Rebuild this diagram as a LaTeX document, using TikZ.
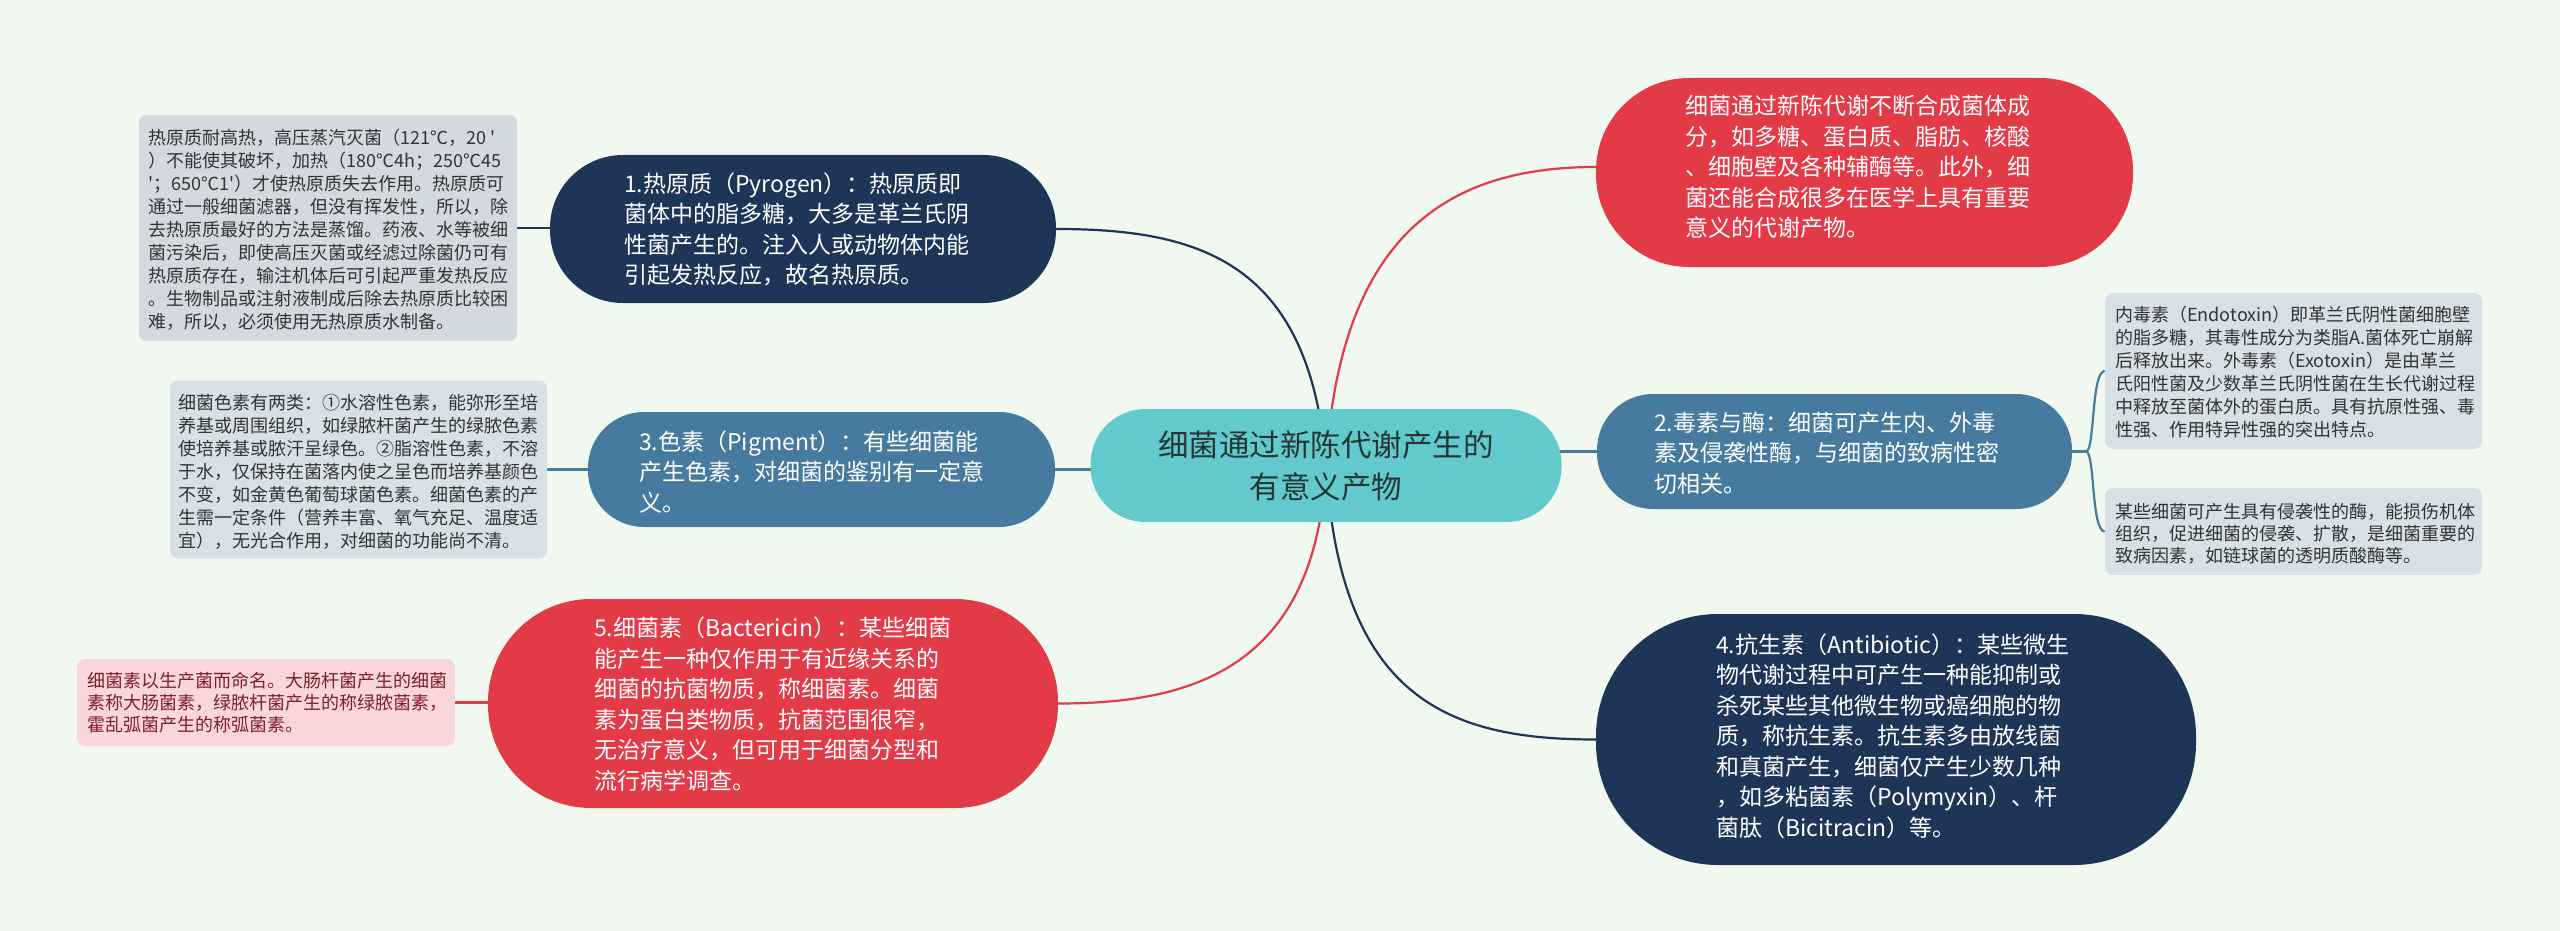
\documentclass[tikz,border=0pt]{standalone}
\usepackage{fontspec}
\newfontfamily\cjk{Noto Sans CJK SC}
\usetikzlibrary{backgrounds}
\definecolor{bgc}{HTML}{F1F8EF}
\definecolor{navyc}{HTML}{1E3558}
\definecolor{steelc}{HTML}{467B9F}
\definecolor{redc}{HTML}{E33A48}
\definecolor{tealc}{HTML}{62C9CC}
\definecolor{ctext}{HTML}{263636}
\definecolor{grayn}{HTML}{D3D9E0}
\definecolor{bluen}{HTML}{D6E0E7}
\definecolor{pinkn}{HTML}{F9D6DA}
\definecolor{pinkt}{HTML}{7E1F2A}
\definecolor{notet}{HTML}{333333}
\begin{document}
\begin{tikzpicture}[x=1pt,y=-1pt,
  pill/.style={inner sep=0pt},
  notebox/.style={inner sep=0pt, rounded corners=8pt},
  txt/.style={anchor=west, inner sep=0pt, align=left},
  bigf/.style={font=\cjk\fontsize{23}{30.5}\selectfont},
  notef/.style={font=\cjk\fontsize{18}{23}\selectfont},
  conn/.style={line width=2.2pt}]
\useasboundingbox (0,0) rectangle (2560,931);

% center
\node[pill, fill=tealc, minimum width=471, minimum height=113, rounded corners=55] (c) at (1326,465.5) {};
\node[inner sep=0pt, align=center, text=ctext, font=\cjk\fontsize{30.5}{42}\selectfont] (ct) at (1326,466) {细菌通过新陈代谢产生的\\有意义产物};

% node 1
\node[pill, fill=navyc, minimum width=506, minimum height=148, rounded corners=73] (n1) at (803,229) {};
\node[txt, bigf, text=white] (n1t) at (624,229.5) {1.热原质（Pyrogen）：热原质即\\菌体中的脂多糖，大多是革兰氏阴\\性菌产生的。注入人或动物体内能\\引起发热反应，故名热原质。};

% node 3
\node[pill, fill=steelc, minimum width=467, minimum height=115, rounded corners=56] (n3) at (821.5,469.5) {};
\node[txt, bigf, text=white] (n3t) at (639,472) {3.色素（Pigment）：有些细菌能\\产生色素，对细菌的鉴别有一定意\\义。};

% node 5
\node[pill, fill=redc, minimum width=570, minimum height=209, rounded corners=103] (n5) at (773,703.5) {};
\node[txt, bigf, text=white] (n5t) at (594,704) {5.细菌素（Bactericin）：某些细菌\\能产生一种仅作用于有近缘关系的\\细菌的抗菌物质，称细菌素。细菌\\素为蛋白类物质，抗菌范围很窄，\\无治疗意义，但可用于细菌分型和\\流行病学调查。};

% right red node
\node[pill, fill=redc, minimum width=537, minimum height=189, rounded corners=93] (r) at (1864.5,172.5) {};
\node[txt, bigf, text=white] (rt) at (1685,167) {细菌通过新陈代谢不断合成菌体成\\分，如多糖、蛋白质、脂肪、核酸\\、细胞壁及各种辅酶等。此外，细\\菌还能合成很多在医学上具有重要\\意义的代谢产物。};

% node 2
\node[pill, fill=steelc, minimum width=475, minimum height=115, rounded corners=56] (n2) at (1834.5,451.5) {};
\node[txt, bigf, text=white] (n2t) at (1654,453) {2.毒素与酶：细菌可产生内、外毒\\素及侵袭性酶，与细菌的致病性密\\切相关。};

% node 4
\node[pill, fill=navyc, minimum width=600, minimum height=251, rounded corners=122] (n4) at (1896,739.5) {};
\node[txt, bigf, text=white] (n4t) at (1716,736) {4.抗生素（Antibiotic）：某些微生\\物代谢过程中可产生一种能抑制或\\杀死某些其他微生物或癌细胞的物\\质，称抗生素。抗生素多由放线菌\\和真菌产生，细菌仅产生少数几种\\，如多粘菌素（Polymyxin）、杆\\菌肽（Bicitracin）等。};

% notes
\node[notebox, fill=grayn, minimum width=378, minimum height=226] (p1) at (328,228) {};
\node[txt, notef, text=notet] (p1t) at (148,229.5) {热原质耐高热，高压蒸汽灭菌（121℃，20 '\\）不能使其破坏，加热（180℃4h；250℃45\\'；650℃1'）才使热原质失去作用。热原质可\\通过一般细菌滤器，但没有挥发性，所以，除\\去热原质最好的方法是蒸馏。药液、水等被细\\菌污染后，即使高压灭菌或经滤过除菌仍可有\\热原质存在，输注机体后可引起严重发热反应\\。生物制品或注射液制成后除去热原质比较困\\难，所以，必须使用无热原质水制备。};

\node[notebox, fill=bluen, minimum width=377, minimum height=178] (p3) at (358.5,469.5) {};
\node[txt, notef, text=notet] (p3t) at (178,472) {细菌色素有两类：①水溶性色素，能弥形至培\\养基或周围组织，如绿脓杆菌产生的绿脓色素\\使培养基或脓汗呈绿色。②脂溶性色素，不溶\\于水，仅保持在菌落内使之呈色而培养基颜色\\不变，如金黄色葡萄球菌色素。细菌色素的产\\生需一定条件（营养丰富、氧气充足、温度适\\宜），无光合作用，对细菌的功能尚不清。};

\node[notebox, fill=pinkn, minimum width=378, minimum height=87] (p5) at (266,702.5) {};
\node[txt, font=\cjk\fontsize{18}{22}\selectfont, text=pinkt] (p5t) at (87,702.5) {细菌素以生产菌而命名。大肠杆菌产生的细菌\\素称大肠菌素，绿脓杆菌产生的称绿脓菌素，\\霍乱弧菌产生的称弧菌素。};

\node[notebox, fill=bluen, minimum width=377, minimum height=156] (q1) at (2293.5,371) {};
\node[txt, notef, text=notet] (q1t) at (2115,372.5) {内毒素（Endotoxin）即革兰氏阴性菌细胞壁\\的脂多糖，其毒性成分为类脂A.菌体死亡崩解\\后释放出来。外毒素（Exotoxin）是由革兰\\氏阳性菌及少数革兰氏阴性菌在生长代谢过程\\中释放至菌体外的蛋白质。具有抗原性强、毒\\性强、作用特异性强的突出特点。};

\node[notebox, fill=bluen, minimum width=377, minimum height=87] (q2) at (2293.5,531.5) {};
\node[txt, font=\cjk\fontsize{18}{22}\selectfont, text=notet] (q2t) at (2115,533.5) {某些细菌可产生具有侵袭性的酶，能损伤机体\\组织，促进细菌的侵袭、扩散，是细菌重要的\\致病因素，如链球菌的透明质酸酶等。};

\coordinate (j) at (2086,451.5);

\begin{scope}[on background layer]
\fill[bgc] (0,0) rectangle (2560,931);
\draw[conn, navyc] (c.center) .. controls (1310,262) and (1200,229) .. (n1.east);
\draw[conn, redc] (c.center) .. controls (1340,232) and (1450,167) .. (r.west |- rt.west);
\draw[conn, redc] (c.center) .. controls (1316,670) and (1190,703.5) .. (n5.east);
\draw[conn, navyc] (c.center) .. controls (1340,700) and (1450,739.5) .. (n4.west);
\draw[conn, steelc] (c.center |- n3.east) -- (n3.east);
\draw[conn, steelc] (c.center |- n2.west) -- (n2.west);
\draw[conn, navyc] (p1.east) -- (p1.east -| n1.west);
\draw[conn, steelc] (p3.east) -- (n3.west);
\draw[conn, redc] (p5.east) -- (p5.east -| n5.west);
\draw[conn, steelc] (n2.east) -- (j);
\draw[conn, steelc] (j) .. controls (2095,451.5) and (2091,371) .. (q1.west);
\draw[conn, steelc] (j) .. controls (2095,451.5) and (2091,531.5) .. (q2.west);
\end{scope}
\end{tikzpicture}
\end{document}
